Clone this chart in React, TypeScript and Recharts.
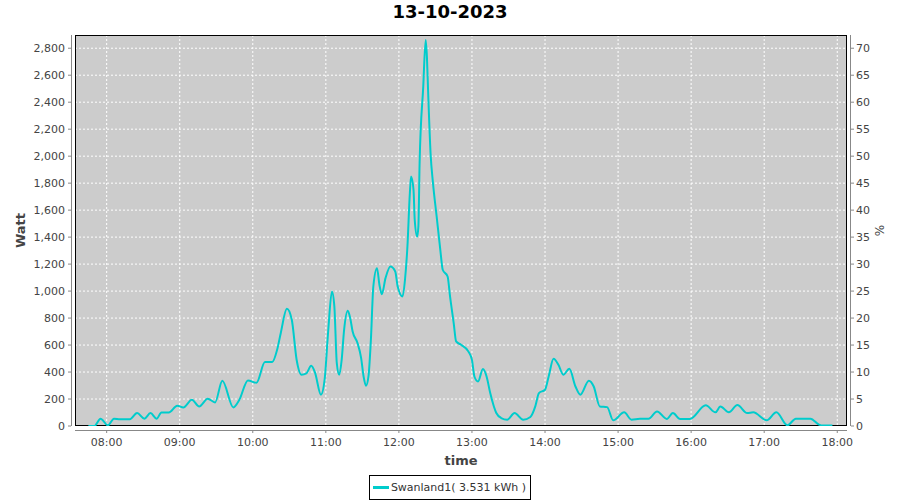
import React from 'react';
import * as R from 'recharts';

const { LineChart, Line, XAxis, YAxis, CartesianGrid } = R;

// readings of the Swanland1 inverter, 13-10-2023
const times = [
  '07:45', '07:50', '07:55', '08:01', '08:06', '08:11', '08:19', '08:25', '08:31', '08:36',
  '08:41', '08:45', '08:51', '08:58', '09:03', '09:10', '09:16', '09:23', '09:29', '09:35',
  '09:44', '09:49', '09:56', '10:03', '10:10', '10:16', '10:20', '10:23', '10:28', '10:32',
  '10:36', '10:40', '10:44', '10:48', '10:51', '10:56', '10:59', '11:02', '11:05', '11:07',
  '11:09', '11:11', '11:13', '11:15', '11:18', '11:20', '11:22', '11:26', '11:29', '11:31',
  '11:33', '11:35', '11:37', '11:39', '11:42', '11:44', '11:46', '11:49', '11:53', '11:57',
  '11:59', '12:03', '12:05', '12:07', '12:09', '12:10', '12:12', '12:13', '12:15', '12:16',
  '12:17', '12:20', '12:22', '12:23', '12:24', '12:26', '12:28', '12:31', '12:34', '12:36',
  '12:40', '12:42', '12:45', '12:47', '12:51', '12:57', '13:00', '13:02', '13:05', '13:09',
  '13:12', '13:15', '13:18', '13:20', '13:24', '13:29', '13:35', '13:42', '13:48', '13:52',
  '13:55', '14:00', '14:03', '14:07', '14:11', '14:15', '14:20', '14:25', '14:29', '14:36',
  '14:40', '14:45', '14:51', '14:56', '15:05', '15:11', '15:18', '15:25', '15:32', '15:40',
  '15:45', '15:51', '15:59', '16:12', '16:20', '16:24', '16:31', '16:38', '16:46', '16:51',
  '17:02', '17:10', '17:19', '17:26', '17:38', '17:45', '17:48', '17:56',
];

const watts = [
  0, 0, 54, 5, 54, 50, 50, 96, 54, 96,
  54, 100, 100, 150, 138, 195, 145, 202, 175, 335,
  138, 195, 338, 320, 474, 474, 565, 690, 869, 790,
  491, 380, 390, 447, 400, 232, 343, 713, 997, 885,
  466, 380, 490, 713, 854, 800, 700, 615, 503, 367,
  298, 367, 639, 1034, 1170, 1047, 977, 1096, 1182, 1145,
  1034, 960, 1084, 1330, 1726, 1849, 1750, 1528, 1404, 1480,
  1948, 2516, 2861, 2738, 2478, 2022, 1800, 1553, 1306, 1158,
  1108, 960, 763, 627, 602, 553, 490, 367, 330, 422,
  367, 244, 145, 96, 59, 47, 96, 47, 67, 145,
  244, 269, 367, 498, 454, 380, 424, 293, 232, 336,
  293, 145, 140, 42, 101, 47, 54, 54, 108, 52,
  96, 52, 52, 153, 101, 145, 101, 155, 96, 101,
  42, 101, 5, 54, 54, 10, 3, 3,
];

const hourTicks = ['08:00', '09:00', '10:00', '11:00', '12:00', '13:00', '14:00', '15:00', '16:00', '17:00', '18:00'];
const wattTicks = [0, 200, 400, 600, 800, 1000, 1200, 1400, 1600, 1800, 2000, 2200, 2400, 2600, 2800];
const pctTicks = [0, 5, 10, 15, 20, 25, 30, 35, 40, 45, 50, 55, 60, 65, 70];

const seriesName = 'Swanland1( 3.531 kWh )';

const toMin = (t: string) => {
  const [h, m] = t.split(':').map(Number);
  return h * 60 + m;
};
const fmtTime = (v: number) =>
  `${String(Math.floor(v / 60)).padStart(2, '0')}:${String(v % 60).padStart(2, '0')}`;

const rows = times.map((t, i) => ({ min: toMin(t), w: watts[i] }));

const FONT = '"DejaVu Sans", sans-serif';
const LINE = '#00cccc';
const AXIS = '#888888';
const TEXT = '#444444';

const XTick = (p: any) => (
  <g>
    <line x1={p.x} y1={p.y + 4} x2={p.x} y2={p.y + 7} stroke={AXIS} />
    <text x={p.x} y={p.y + 20} textAnchor="middle" fontSize={11} fontFamily={FONT} fill={TEXT}>
      {fmtTime(p.payload.value)}
    </text>
  </g>
);

const LeftTick = (p: any) => (
  <g>
    <line x1={p.x - 7} y1={p.y} x2={p.x - 4} y2={p.y} stroke={AXIS} />
    <text x={p.x - 10} y={p.y + 4} textAnchor="end" fontSize={11} fontFamily={FONT} fill={TEXT}>
      {p.payload.value.toLocaleString('en-US')}
    </text>
  </g>
);

const RightTick = (p: any) => (
  <g>
    <line x1={p.x + 4} y1={p.y} x2={p.x + 7} y2={p.y} stroke={AXIS} />
    <text x={p.x + 9} y={p.y + 4} textAnchor="start" fontSize={11} fontFamily={FONT} fill={TEXT}>
      {p.payload.value}
    </text>
  </g>
);

// plot border, offset axis lines and axis titles
function Frame() {
  const hook = (R as any).usePlotArea;
  const area = hook ? hook() : null;
  const a = area ?? { x: 75, y: 35, width: 772, height: 391 };
  const l = a.x;
  const t = a.y;
  const r = a.x + a.width;
  const b = a.y + a.height;
  const midY = t + a.height / 2;
  return (
    <g>
      <rect x={l + 0.5} y={t + 0.5} width={a.width - 1} height={a.height - 1} fill="none" stroke="#000" />
      <line x1={l - 3.5} y1={t} x2={l - 3.5} y2={b} stroke={AXIS} />
      <line x1={r + 3.5} y1={t} x2={r + 3.5} y2={b} stroke={AXIS} />
      <line x1={l} y1={b + 4.5} x2={r} y2={b + 4.5} stroke={AXIS} />
      <text
        x={20}
        y={midY}
        transform={`rotate(-90 20 ${midY})`}
        textAnchor="middle"
        dominantBaseline="central"
        fontSize={13}
        fontWeight="bold"
        fontFamily={FONT}
        fill={TEXT}
      >
        Watt
      </text>
      <text
        x={880}
        y={midY}
        transform={`rotate(-90 880 ${midY})`}
        textAnchor="middle"
        dominantBaseline="central"
        fontSize={12}
        fontFamily={FONT}
        fill={TEXT}
      >
        %
      </text>
      <text
        x={(l + r) / 2}
        y={b + 39}
        textAnchor="middle"
        fontSize={13}
        fontWeight="bold"
        fontFamily={FONT}
        fill={TEXT}
      >
        time
      </text>
    </g>
  );
}

export default function App() {
  return (
    <div style={{ position: 'absolute', left: 0, top: 0, width: 900, height: 500, background: '#fff' }}>
      <div
        style={{
          position: 'absolute',
          top: 1,
          width: 900,
          textAlign: 'center',
          fontFamily: FONT,
          fontWeight: 'bold',
          fontSize: 18,
          lineHeight: '22px',
          color: '#000',
        }}
      >
        13-10-2023
      </div>
      <LineChart width={900} height={500} data={rows} margin={{ top: 35, right: 0, bottom: 44, left: 0 }}>
        <CartesianGrid
          yAxisId="w"
          fill="#cccccc"
          stroke="#ffffff"
          strokeDasharray="2 2"
          horizontalValues={wattTicks}
          verticalValues={hourTicks.map(toMin)}
        />
        <XAxis
          dataKey="min"
          type="number"
          domain={[454, 1088]}
          ticks={hourTicks.map(toMin)}
          interval={0}
          axisLine={false}
          tickLine={false}
          tickSize={0}
          tickMargin={0}
          height={30}
          tick={<XTick />}
          allowDataOverflow
        />
        <YAxis
          yAxisId="w"
          orientation="left"
          domain={[0, 2898]}
          ticks={wattTicks}
          interval={0}
          width={75}
          axisLine={false}
          tickLine={false}
          tickSize={0}
          tickMargin={0}
          tick={<LeftTick />}
          allowDataOverflow
        />
        <YAxis
          yAxisId="p"
          orientation="right"
          domain={[0, 72.45]}
          ticks={pctTicks}
          interval={0}
          width={53}
          axisLine={false}
          tickLine={false}
          tickSize={0}
          tickMargin={0}
          tick={<RightTick />}
          allowDataOverflow
        />
        <Frame />
        <Line
          yAxisId="w"
          type="monotone"
          dataKey="w"
          name={seriesName}
          stroke={LINE}
          strokeWidth={2}
          dot={false}
          isAnimationActive={false}
        />
      </LineChart>
      <div
        style={{
          position: 'absolute',
          top: 475,
          left: 0,
          width: 900,
          display: 'flex',
          justifyContent: 'center',
        }}
      >
        <div
          style={{
            display: 'inline-flex',
            alignItems: 'center',
            border: '1px solid #000',
            height: 23,
            padding: '0 4px 0 3px',
            fontFamily: FONT,
            fontSize: 11,
            color: '#333',
            background: '#fff',
          }}
        >
          <span style={{ display: 'inline-block', width: 16, height: 3, background: LINE, marginRight: 2 }} />
          <span>{seriesName}</span>
        </div>
      </div>
    </div>
  );
}
